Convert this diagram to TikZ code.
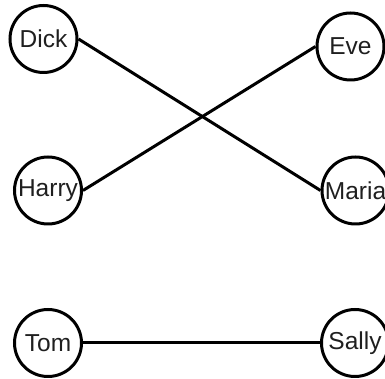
\documentclass[tikz,border=0pt]{standalone}
\usepackage{fontspec}
\setmainfont{Liberation Sans}
\begin{document}
\begin{tikzpicture}[x=1pt,y=1pt,
  person/.style={draw=black, circle, line width=3pt, minimum size=67pt, inner sep=0pt,
    font=\fontsize{24.5}{26}\selectfont, text=black!88},
  link/.style={draw=black, line width=3pt}]
\useasboundingbox (0,0) rectangle (385,379);
\node[person] (Dick)  at (43.5,340)  {Dick};
\node[person] (Eve)   at (350.5,332.5) {Eve};
\node[person] (Harry) at (48,188.5)  {Harry};
\node[person] (Maria) at (355.5,188.5) {Maria};
\node[person] (Tom)   at (48,36)     {Tom};
\node[person] (Sally) at (355,36)    {Sally};
\draw[link] (Dick.east) -- (Maria.west);
\draw[link] (Harry.east) -- (Eve.west);
\draw[link] (Tom.east) -- (Sally.west);
\end{tikzpicture}
\end{document}
